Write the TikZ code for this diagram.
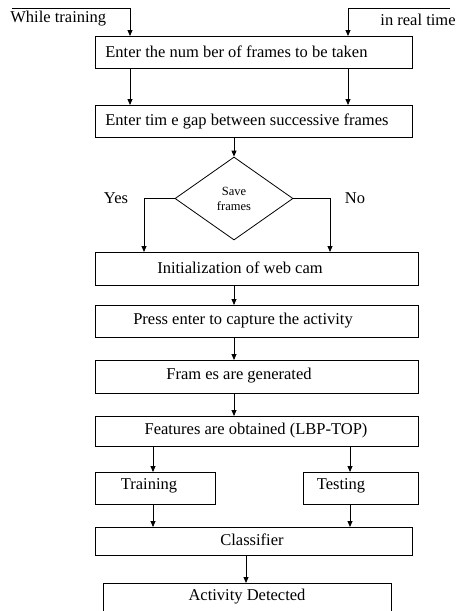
\documentclass[tikz,border=0pt]{standalone}
\usepackage{fontspec}
\setmainfont{Liberation Serif}
\usetikzlibrary{arrows.meta,shapes.geometric}
\begin{document}
\begin{tikzpicture}[x=1pt,y=-1pt,
  line width=0.8pt,
  font=\fontsize{16.5}{18}\selectfont,
  arr/.style={-{Triangle[length=6pt,width=5pt]}},
  boxc/.style={draw,rectangle,inner sep=0pt,anchor=north west},
  lab/.style={inner sep=0pt}]
\useasboundingbox (0,0) rectangle (456,611);
% boxes drawn by corners
\node[boxc,minimum width=317pt,minimum height=32pt] (b1) at (95,36) {};
\node[lab,anchor=west] (t1) at (105,52) {Enter the num ber of frames to be taken};
\node[boxc,minimum width=317pt,minimum height=32pt] (b2) at (95,105) {};
\node[lab,anchor=west] (t2) at (105,121) {Enter tim e gap between successive frames};
\node[draw,diamond,inner sep=0pt,minimum width=118pt,minimum height=83pt,
      font=\fontsize{12.5}{15}\selectfont,align=center] (dia) at (234,198.5) {Save\\frames};
\node[boxc,minimum width=323pt,minimum height=33pt] (b3) at (95,252) {};
\node[lab] (t3) at (240,268) {Initialization of web cam};
\node[boxc,minimum width=323pt,minimum height=32pt] (b4) at (95,305) {};
\node[lab] (t4) at (243,321) {Press enter to capture the activity};
\node[boxc,minimum width=323pt,minimum height=33pt] (b5) at (95,360) {};
\node[lab] (t5) at (239,376) {Fram es are generated};
\node[boxc,minimum width=323pt,minimum height=30pt] (b6) at (95,416) {};
\node[lab] (t6) at (256,431) {Features are obtained (LBP-TOP)};
\node[boxc,minimum width=120pt,minimum height=32pt] (btr) at (95,472) {};
\node[lab] (ttr) at (149,486) {Training};
\node[boxc,minimum width=115pt,minimum height=32pt] (bte) at (303,472) {};
\node[lab] (tte) at (341,486) {Testing};
\node[boxc,minimum width=317pt,minimum height=28pt] (bcl) at (95,527) {};
\node[lab] (tcl) at (252,540) {Classifier};
\node[boxc,minimum width=288pt,minimum height=34pt] (bad) at (103,583) {};
\node[lab] (tad) at (247,597) {Activity Detected};
% labels
\node[lab,anchor=west] (lwt) at (10,19) {While training};
\node[lab,anchor=east] (lrt) at (456,20) {in real time};
\node[lab] (lyes) at (116,198) {Yes};
\node[lab] (lno) at (355,198) {No};
% x positions
\coordinate (xa) at (130,0);
\coordinate (xb) at (348,0);
\coordinate (xc) at (234,0);
\coordinate (xy) at (144,0);
\coordinate (xn) at (330,0);
\coordinate (xt) at (153,0);
\coordinate (xs) at (350,0);
\coordinate (xd) at (246,0);
\coordinate (wt) at (12,8);
\coordinate (rt) at (450,8);
% connectors
\draw[arr] (wt) -| (b1.north -| xa);
\draw[arr] (rt) -| (b1.north -| xb);
\draw[arr] (b1.south -| xa) -- (b2.north -| xa);
\draw[arr] (b1.south -| xb) -- (b2.north -| xb);
\draw[arr] (b2.south -| dia.north) -- (dia.north);
\draw[arr] (dia.west) -| (b3.north -| xy);
\draw[arr] (dia.east) -| (b3.north -| xn);
\draw[arr] (b3.south -| xc) -- (b4.north -| xc);
\draw[arr] (b4.south -| xc) -- (b5.north -| xc);
\draw[arr] (b5.south -| xc) -- (b6.north -| xc);
\draw[arr] (b6.south -| xt) -- (btr.north -| xt);
\draw[arr] (b6.south -| xs) -- (bte.north -| xs);
\draw[arr] (btr.south -| xt) -- (bcl.north -| xt);
\draw[arr] (bte.south -| xs) -- (bcl.north -| xs);
\draw[arr] (bcl.south -| xd) -- (bad.north -| xd);
\end{tikzpicture}
\end{document}
